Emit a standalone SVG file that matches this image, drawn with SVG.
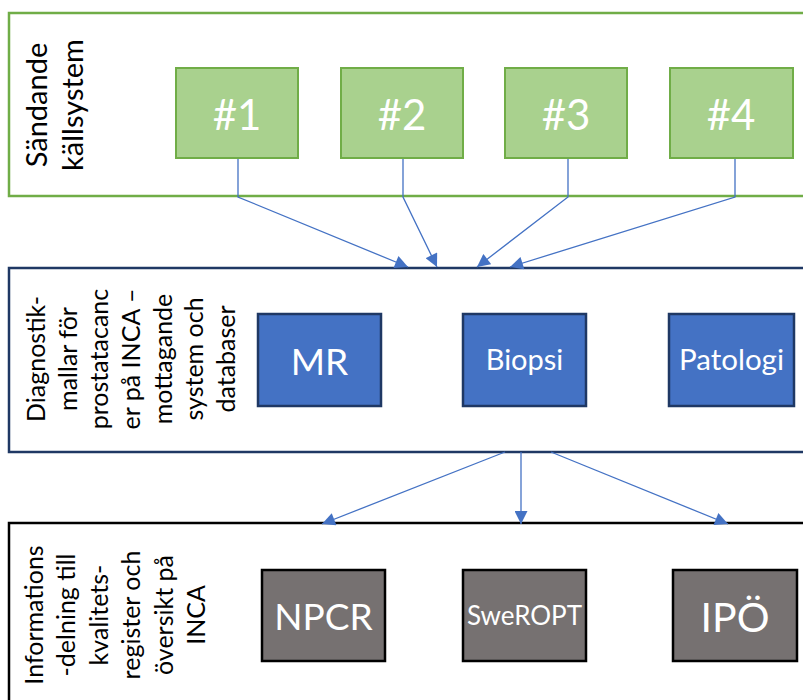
<svg xmlns="http://www.w3.org/2000/svg" width="803" height="700" viewBox="0 0 803 700">
<style>
.t{font-family:Lato,"Open Sans","Liberation Sans",sans-serif;}
.lbl{font-size:25px;fill:#000;text-anchor:middle;}
.box{font-size:30px;fill:#fff;text-anchor:middle;}
.g{fill:#A9D18E;stroke:#70AD47;stroke-width:2;}
.b{fill:#4472C4;stroke:#1F3864;stroke-width:2.5;}
.k{fill:#767171;stroke:#000;stroke-width:2.5;}
.c{fill:none;stroke:#4472C4;stroke-width:1.3;marker-end:url(#ah);}
</style>
<defs>
<marker id="ah" viewBox="0 0 10 10" refX="10" refY="5" markerUnits="userSpaceOnUse" markerWidth="14" markerHeight="13" orient="auto">
<path d="M0,0 L10,5 L0,10 z" fill="#4472C4"/>
</marker>
</defs>
<rect width="803" height="700" fill="#fff"/>
<g id="container-source">
<rect x="9" y="13" width="830" height="183" fill="#fff" stroke="#70AD47" stroke-width="2.5"/>
<text class="t lbl" style="font-size:29px" transform="translate(47,105) rotate(-90)">Sändande</text>
<text class="t lbl" style="font-size:29px" transform="translate(83,105) rotate(-90)">källsystem</text>
</g>
<g id="container-inca">
<rect x="9" y="268" width="830" height="184" fill="#fff" stroke="#1F3864" stroke-width="2.5"/>
<text class="t lbl" transform="translate(45,359) rotate(-90)">Diagnostik-</text>
<text class="t lbl" transform="translate(77,359) rotate(-90)">mallar för</text>
<text class="t lbl" transform="translate(108,359) rotate(-90)">prostatacanc</text>
<text class="t lbl" transform="translate(140,359) rotate(-90)">er på INCA –</text>
<text class="t lbl" transform="translate(172,359) rotate(-90)">mottagande</text>
<text class="t lbl" transform="translate(203,359) rotate(-90)">system och</text>
<text class="t lbl" transform="translate(235,359) rotate(-90)">databaser</text>
</g>
<g id="container-sharing">
<rect x="9" y="523" width="830" height="200" fill="#fff" stroke="#000" stroke-width="2.5"/>
<text class="t lbl" transform="translate(43,615) rotate(-90)">Informations</text>
<text class="t lbl" transform="translate(75,615) rotate(-90)">-delning till</text>
<text class="t lbl" transform="translate(108,615) rotate(-90)">kvalitets-</text>
<text class="t lbl" transform="translate(140,615) rotate(-90)">register och</text>
<text class="t lbl" transform="translate(173,615) rotate(-90)">översikt på</text>
<text class="t lbl" transform="translate(205,615) rotate(-90)">INCA</text>
</g>
<g id="connectors">
<polyline class="c" points="238,158 238,197 408,267"/>
<polyline class="c" points="403,158 403,197 437,267"/>
<polyline class="c" points="568,158 568,197 477,267"/>
<polyline class="c" points="735,158 735,197 510,267"/>
<line class="c" x1="505" y1="452" x2="322" y2="524"/>
<line class="c" x1="521" y1="452" x2="521" y2="524"/>
<line class="c" x1="551" y1="452" x2="728" y2="524"/>
</g>
<g id="n1"><rect class="g" x="176" y="68" width="122" height="90"/><text class="t box" style="font-size:42px" x="237" y="130">#1</text></g>
<g id="n2"><rect class="g" x="341" y="68" width="122" height="90"/><text class="t box" style="font-size:42px" x="402" y="130">#2</text></g>
<g id="n3"><rect class="g" x="505" y="68" width="122" height="90"/><text class="t box" style="font-size:42px" x="566" y="130">#3</text></g>
<g id="n4"><rect class="g" x="670" y="68" width="123" height="90"/><text class="t box" style="font-size:42px" x="731" y="130">#4</text></g>
<g id="mr"><rect class="b" x="258" y="314" width="123" height="92"/><text class="t box" style="font-size:37px" x="319.5" y="375">MR</text></g>
<g id="biopsi"><rect class="b" x="463" y="314" width="123" height="92"/><text class="t box" style="font-size:29px" x="524.5" y="370">Biopsi</text></g>
<g id="patologi"><rect class="b" x="669" y="314" width="125" height="92"/><text class="t box" style="font-size:29.5px" x="731.5" y="370">Patologi</text></g>
<g id="npcr"><rect class="k" x="262" y="570" width="123" height="91"/><text class="t box" style="font-size:37px" x="323.5" y="630">NPCR</text></g>
<g id="sweropt"><rect class="k" x="463" y="570" width="123" height="91"/><text class="t box" style="font-size:26px" x="524.5" y="625">SweROPT</text></g>
<g id="ipo"><rect class="k" x="673" y="570" width="124" height="91"/><text class="t box" style="font-size:41px" x="735" y="632">IPÖ</text></g>
</svg>
